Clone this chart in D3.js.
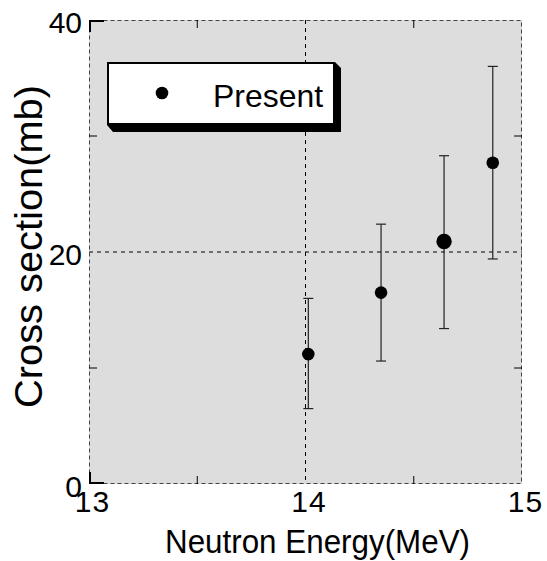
<!DOCTYPE html>
<html><head><meta charset="utf-8">
<script src="https://cdn.jsdelivr.net/npm/d3@7"></script>
<style>body{margin:0;background:#fff}svg{display:block}text{font-family:"Liberation Sans",Arial,sans-serif;fill:#000}</style>
</head><body><svg id="c" width="547" height="561"></svg>
<script>
const energies = [14.013, 14.349, 14.64, 14.865];
const values = [11.2, 16.5, 20.9, 27.7];
const errLow = [6.5, 10.6, 13.4, 19.4];
const errHigh = [16.0, 22.4, 28.3, 36.0];
const markerSize = [6.3, 6.3, 7.7, 6.3];
const xTicks = [13, 14, 15];
const yTicks = [0, 20, 40];
const xMinor = [13.5, 14.5];
const yMinor = [10, 30];
const seriesName = "Present";

const svg = d3.select("#c");
const L = 89, R = 522, T = 20, B = 484;
const x = d3.scaleLinear().domain([13, 15]).range([L, R]);
const y = d3.scaleLinear().domain([0, 40]).range([B, T]);

svg.append("rect").attr("x", L).attr("y", T).attr("width", R - L).attr("height", B - T).attr("fill", "#dcdddc");

// grid
const g = svg.append("g").attr("stroke", "#000").attr("stroke-width", 1).attr("stroke-dasharray", "4,4");
g.append("line").attr("x1", x(14)).attr("x2", x(14)).attr("y1", T).attr("y2", B);
g.append("line").attr("x1", L).attr("x2", R).attr("y1", y(20)).attr("y2", y(20));

// frame dashed
const f = svg.append("g").attr("fill", "none").attr("stroke", "#444").attr("stroke-width", 1).attr("stroke-dasharray", "4,3");
f.append("rect").attr("x", L + 0.5).attr("y", T + 0.5).attr("width", R - L - 1).attr("height", B - T - 1);
// solid corners
const c = svg.append("g").attr("stroke", "#000").attr("stroke-width", 2).attr("fill", "none");
c.append("path").attr("d", `M${L + 1},${T + 12}V${T + 1}H${L + 15}`);
c.append("path").attr("d", `M${L + 1},${B - 12}V${B - 1}H${L + 15}`);

// minor ticks
const tk = svg.append("g").attr("stroke", "#000").attr("stroke-width", 1);
xMinor.forEach(v => {
  tk.append("line").attr("x1", x(v)).attr("x2", x(v)).attr("y1", T).attr("y2", T + 8);
  tk.append("line").attr("x1", x(v)).attr("x2", x(v)).attr("y1", B).attr("y2", B - 8);
});
yMinor.forEach(v => {
  tk.append("line").attr("x1", L).attr("x2", L + 8).attr("y1", y(v)).attr("y2", y(v));
  tk.append("line").attr("x1", R).attr("x2", R - 8).attr("y1", y(v)).attr("y2", y(v));
});

// tick labels using axes
const xa = svg.append("g").attr("transform", `translate(3,${B})`)
  .call(d3.axisBottom(x).tickValues(xTicks).tickSize(0).tickPadding(7).tickFormat(d3.format("d")));
xa.select(".domain").remove();
xa.selectAll("text").attr("font-size", 30).attr("letter-spacing", 1).attr("dy", "0.71em")
  .style("font-family", '"Liberation Sans",Arial,sans-serif').attr("fill", "#000");
const ya = svg.append("g").attr("transform", `translate(${L - 7},3)`)
  .call(d3.axisLeft(y).tickValues(yTicks).tickSize(0).tickPadding(0).tickFormat(d3.format("d")));
ya.select(".domain").remove();
ya.selectAll("text").attr("font-size", 30)
  .style("font-family", '"Liberation Sans",Arial,sans-serif').attr("fill", "#000");

// error bars
const eb = svg.append("g").attr("stroke", "#222").attr("stroke-width", 1.2);
energies.forEach((e, i) => {
  eb.append("line").attr("x1", x(e)).attr("x2", x(e)).attr("y1", y(errLow[i])).attr("y2", y(errHigh[i]));
  [errLow[i], errHigh[i]].forEach(v => eb.append("line").attr("x1", x(e) - 5).attr("x2", x(e) + 5).attr("y1", y(v)).attr("y2", y(v)));
});
svg.append("g").selectAll("circle").data(energies).join("circle")
  .attr("cx", d => x(d)).attr("cy", (d, i) => y(values[i])).attr("r", (d, i) => markerSize[i]).attr("fill", "#000");

// legend
const lg = svg.append("g");
lg.append("path").attr("d", "M107,125 L113,132 L341,132 L341,68 L335,62 L335,125 Z").attr("fill", "#000");
lg.append("rect").attr("x", 108).attr("y", 63).attr("width", 226).attr("height", 61).attr("fill", "#fff").attr("stroke", "#000").attr("stroke-width", 2);
lg.append("circle").attr("cx", 162).attr("cy", 93).attr("r", 6.3).attr("fill", "#000");
lg.append("text").attr("x", 213).attr("y", 107).attr("font-size", 32).attr("textLength", 110).attr("lengthAdjust", "spacingAndGlyphs").text(seriesName);

// titles
svg.append("text").attr("x", 165).attr("y", 553).attr("font-size", 34).attr("textLength", 305).attr("lengthAdjust", "spacingAndGlyphs").text("Neutron Energy(MeV)");
svg.append("text").attr("transform", "translate(42,408) rotate(-90)").attr("font-size", 39).attr("textLength", 323).attr("lengthAdjust", "spacingAndGlyphs").text("Cross section(mb)");
</script></body></html>
